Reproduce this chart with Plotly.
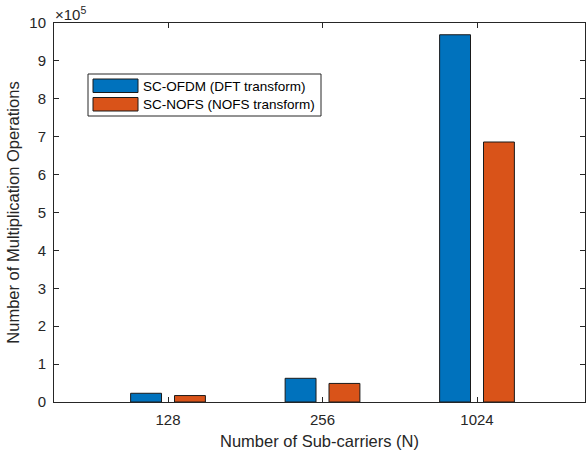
import plotly.graph_objects as go

# ---- data ----
categories = ["128", "256", "1024"]
series_names = ["SC-OFDM (DFT transform)", "SC-NOFS (NOFS transform)"]
ofdm_values = [23000, 62500, 969000]
nofs_values = [17000, 49000, 686000]
y_tick_values = [0, 1e5, 2e5, 3e5, 4e5, 5e5, 6e5, 7e5, 8e5, 9e5, 1e6]
y_tick_labels = ["0", "1", "2", "3", "4", "5", "6", "7", "8", "9", "10"]

BLUE = "#0072BD"
ORANGE = "#D95319"
AX = "#262626"
FONT = "Liberation Sans, Arial, Helvetica, sans-serif"

W, H = 588, 456
L, R, T, B = 54, 585, 23, 402  # plot area in pixels


def px(x):
    return (x - L) / (R - L)


def py(y):
    return (B - y) / (B - T)


xpos = list(range(len(categories)))

fig = go.Figure()
fig.add_trace(go.Bar(x=xpos, y=ofdm_values, name=series_names[0],
                     marker=dict(color=BLUE, line=dict(color="#1a1a1a", width=1)),
                     showlegend=False))
fig.add_trace(go.Bar(x=xpos, y=nofs_values, name=series_names[1],
                     marker=dict(color=ORANGE, line=dict(color="#1a1a1a", width=1)),
                     showlegend=False))

fig.update_layout(
    width=W, height=H,
    margin=dict(l=L, r=W - R, t=T, b=H - B, autoexpand=False),
    paper_bgcolor="white", plot_bgcolor="white",
    barmode="group", bargap=0.432, bargroupgap=0.296,
    font=dict(family=FONT, color=AX, size=15),
    showlegend=False,
)

fig.update_xaxes(
    range=[-0.738, 2.699], tickvals=xpos, ticktext=categories,
    showline=True, linecolor=AX, linewidth=1, mirror="ticks",
    ticks="inside", ticklen=5, tickcolor=AX, tickwidth=1,
    showgrid=False, zeroline=False,
    tickfont=dict(size=15, color=AX), ticklabelstandoff=4,
    title=dict(text="Number of Sub-carriers (N)", font=dict(size=16.5, color=AX), standoff=8),
)
fig.update_yaxes(
    range=[0, 1e6], tickvals=y_tick_values, ticktext=y_tick_labels,
    showline=True, linecolor=AX, linewidth=1, mirror="ticks",
    ticks="inside", ticklen=5, tickcolor=AX, tickwidth=1,
    showgrid=False, zeroline=False,
    tickfont=dict(size=15, color=AX), ticklabelstandoff=4,
    title=dict(text="Number of Multiplication Operations", font=dict(size=16.5, color=AX), standoff=5),
)

# exponent label
fig.add_annotation(xref="paper", yref="paper", x=0, y=1, xanchor="left", yanchor="bottom",
                   text="×10<sup>5</sup>", showarrow=False, font=dict(size=15, color=AX),
                   xshift=-1, yshift=-2)

# custom MATLAB-style legend
shapes = [
    dict(type="rect", xref="paper", yref="paper", x0=px(88), x1=px(321), y0=py(116), y1=py(74),
         line=dict(color=AX, width=1), fillcolor="white", layer="above"),
    dict(type="rect", xref="paper", yref="paper", x0=px(93), x1=px(138), y0=py(92.5), y1=py(79),
         line=dict(color="#1a1a1a", width=1), fillcolor=BLUE, layer="above"),
    dict(type="rect", xref="paper", yref="paper", x0=px(93), x1=px(138), y0=py(111), y1=py(97.5),
         line=dict(color="#1a1a1a", width=1), fillcolor=ORANGE, layer="above"),
]
fig.update_layout(shapes=shapes)
for name, yc in zip(series_names, [86, 104]):
    fig.add_annotation(xref="paper", yref="paper", x=px(141), y=py(yc), xanchor="left", yanchor="middle",
                       text=name, showarrow=False, font=dict(size=13.5, color="black"))

fig.write_html("out.html", config={"displayModeBar": False},
               post_script="document.body.style.margin='0px';document.body.style.overflow='hidden';")
